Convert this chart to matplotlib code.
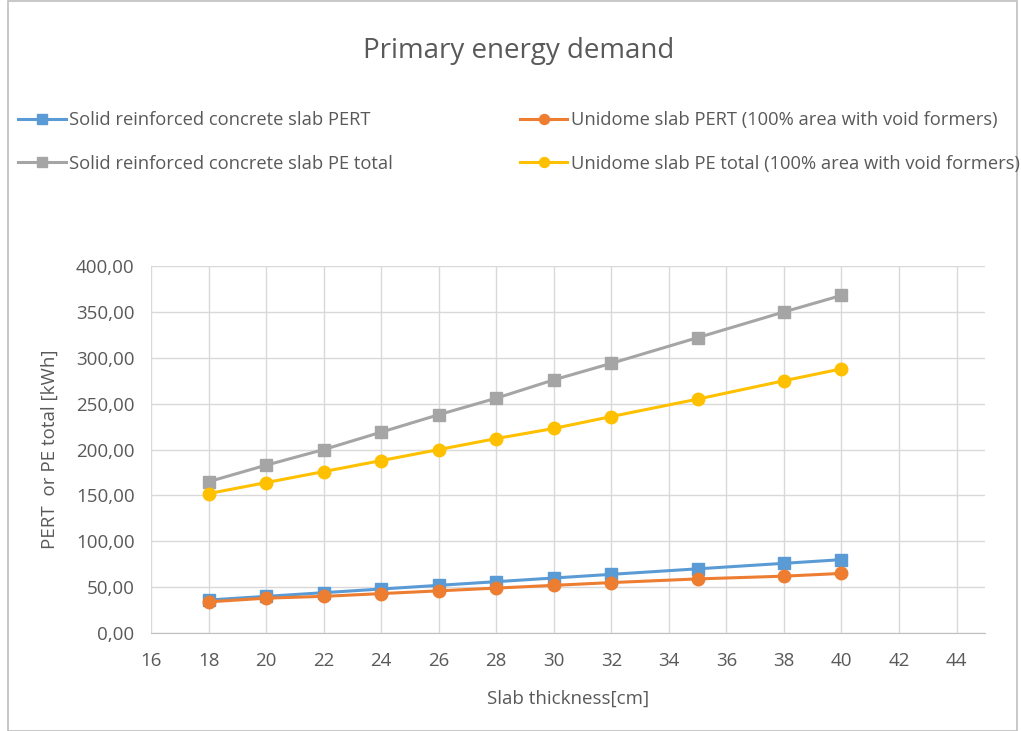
import numpy as np
import matplotlib
matplotlib.use('Agg')
import matplotlib.pyplot as plt
from matplotlib.ticker import FuncFormatter, MultipleLocator
from matplotlib.patches import Rectangle

thickness = [18, 20, 22, 24, 26, 28, 30, 32, 35, 38, 40]
solid_pert = [36, 40, 44, 48, 52, 56, 60, 64, 70, 76, 80]
solid_pe_total = [165, 183, 200, 219, 238, 256, 276, 294, 322, 350, 368]
unidome_pert = [34, 38, 40, 43, 46, 49, 52, 55, 59, 62, 65]
unidome_pe_total = [152, 164, 176, 188, 200, 212, 223, 236, 255, 275, 288]

labels = ['Solid reinforced concrete slab PERT',
          'Solid reinforced concrete slab PE total',
          'Unidome slab PERT (100% area with void formers)',
          'Unidome slab PE total (100% area with void formers)']
colors = ['#5B9BD5', '#A5A5A5', '#ED7D31', '#FFC000']
markers = ['s', 's', 'o', 'o']

plt.rcParams['font.family'] = ['Open Sans', 'DejaVu Sans']
txt = '#595959'

fig = plt.figure(figsize=(10.21, 7.31), dpi=100)
ax = fig.add_axes([0.148, 0.134, 0.817, 0.502])

series = [solid_pert, solid_pe_total, unidome_pert, unidome_pe_total]
handles = []
for ys, c, m, lab in zip(series, colors, markers, labels):
    h, = ax.plot(thickness, ys, color=c, marker=m, markersize=9, linewidth=2.2, label=lab)
    handles.append(h)

ax.set_xlim(16, 45)
ax.set_ylim(0, 400)
ax.set_xticks(np.arange(16, 45, 2))
ax.yaxis.set_major_locator(MultipleLocator(50))
ax.yaxis.set_major_formatter(FuncFormatter(lambda v, p: f'{v:.2f}'.replace('.', ',')))
ax.grid(True, color='#d9d9d9', linewidth=1)
ax.set_axisbelow(True)
for s in ['top', 'right', 'left']:
    ax.spines[s].set_visible(False)
ax.spines['bottom'].set_color('#bfbfbf')
ax.tick_params(length=0, labelsize=13.5, colors=txt)
ax.tick_params(axis='y', pad=12)
ax.tick_params(axis='x', pad=14)
ax.set_xlabel('Slab thickness[cm]', fontsize=13.5, color=txt, labelpad=14)
ax.set_ylabel('PERT  or PE total [kWh]', fontsize=13.5, color=txt, labelpad=12)

fig.text(0.508, 0.930, 'Primary energy demand', ha='center', va='center', fontsize=20, color=txt)

leg_kw = dict(loc='upper left', frameon=False, fontsize=13.2, labelcolor=txt,
              handlelength=2.6, handletextpad=0.2, labelspacing=1.4, markerscale=0.8,
              borderaxespad=0, borderpad=0)
fig.legend(handles[:2], labels[:2], bbox_to_anchor=(0.0176, 0.848), **leg_kw)
fig.legend(handles[2:], labels[2:], bbox_to_anchor=(0.509, 0.848), **leg_kw)

fig.patches.append(Rectangle((0.008, 0.0), 0.988, 0.999, transform=fig.transFigure,
                             fill=False, edgecolor='#bfbfbf', linewidth=1.2))

fig.savefig('out.png', dpi=100)
